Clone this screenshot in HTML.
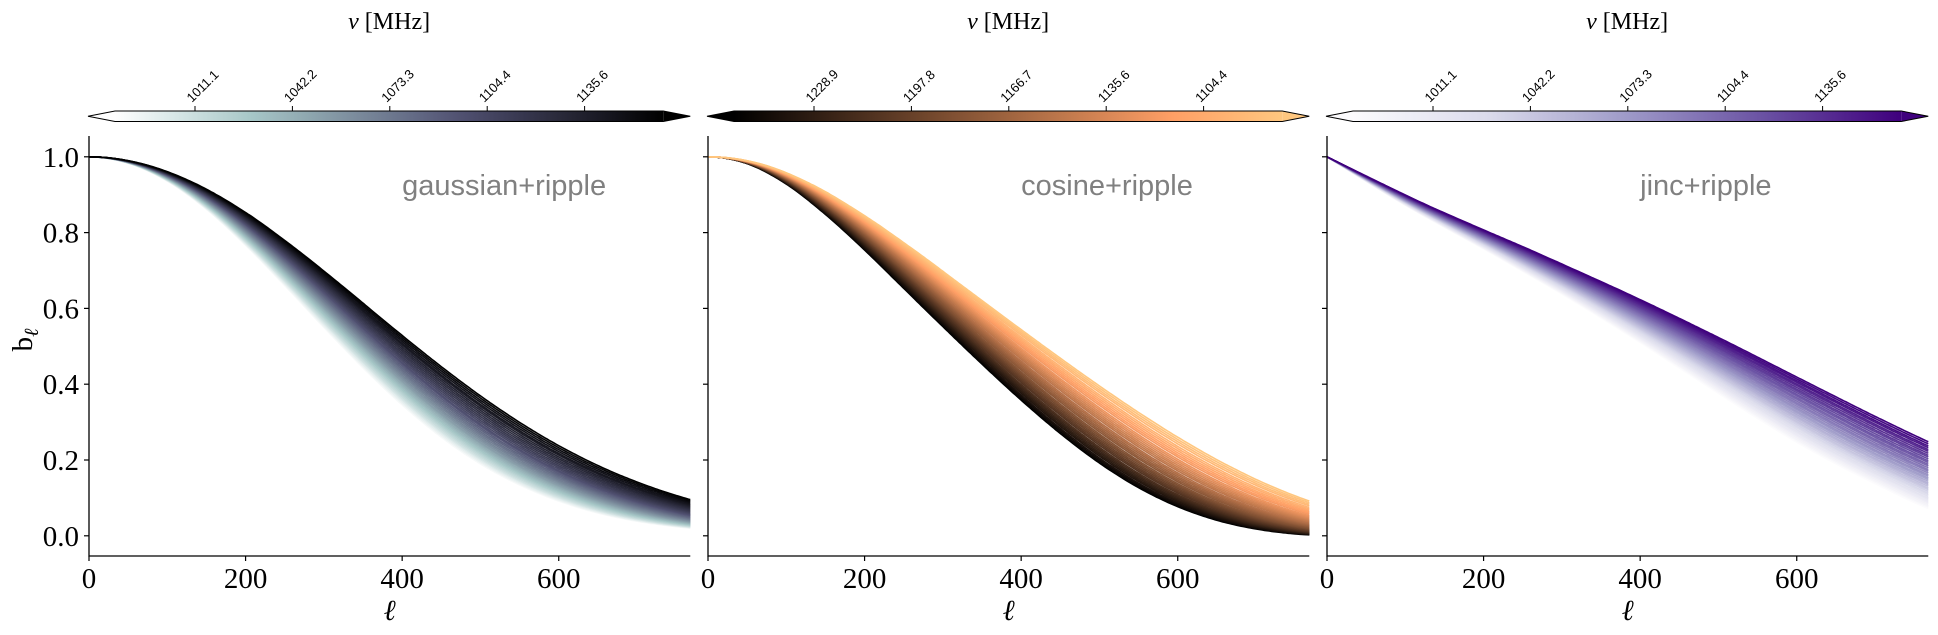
<!DOCTYPE html>
<html><head><meta charset="utf-8">
<style>
html,body{margin:0;padding:0;background:#fff;}
svg{display:block;}
.tk{font-family:"Liberation Serif",serif;font-size:29px;fill:#000;}
.cb{font-family:"Liberation Sans",sans-serif;font-size:13px;fill:#000;}
.ann{font-family:"Liberation Sans",sans-serif;font-size:29px;fill:#808080;}
</style></head>
<body>
<svg id="fig" width="1938" height="635" viewBox="0 0 1938 635" xmlns="http://www.w3.org/2000/svg"></svg>
<script>
// ---- data ----
const ellGrid = [0,50,100,150,200,250,300,350,400,450,500,550,600,650,700,750,800];
const gaussTemplate = [1.0,0.983,0.935,0.860,0.764,0.657,0.546,0.439,0.341,0.256,0.186,0.131,0.089,0.058,0.037,0.023,0.0135];
const cosineTemplate = [1.0,0.982,0.928,0.848,0.754,0.653,0.552,0.453,0.358,0.270,0.192,0.127,0.077,0.041,0.018,0.005,0.0];
const jincTemplate = [1.0,0.935,0.872,0.814,0.757,0.698,0.638,0.575,0.510,0.443,0.376,0.310,0.247,0.190,0.138,0.088,0.045];
const gaussScale = [1.000,0.994,0.988,0.982,0.976,0.971,0.965,0.959,0.953,0.947,0.941,0.935,0.929,0.923,0.917,0.912,0.906,0.900,0.894,0.888,0.882,0.876,0.870,0.864,0.858,0.853,0.847,0.841,0.835,0.829,0.823,0.817,0.811,0.805,0.799,0.794,0.788,0.782,0.776,0.770];
const cosineScale = [1.000,0.994,0.988,0.982,0.975,0.969,0.963,0.957,0.951,0.945,0.938,0.932,0.926,0.920,0.914,0.908,0.902,0.895,0.889,0.883,0.877,0.871,0.865,0.858,0.852,0.846,0.840,0.834,0.828,0.822,0.815,0.809,0.803,0.797,0.791,0.785,0.778,0.772,0.766,0.760];
const jincScale = [1.000,0.994,0.989,0.983,0.977,0.972,0.966,0.961,0.955,0.949,0.944,0.938,0.932,0.927,0.921,0.915,0.910,0.904,0.898,0.893,0.887,0.882,0.876,0.870,0.865,0.859,0.853,0.848,0.842,0.837,0.831,0.825,0.820,0.814,0.808,0.803,0.797,0.792,0.786,0.780];
const xTicks = [0,200,400,600];
const yTicks = [0.0,0.2,0.4,0.6,0.8,1.0];
const cbTicksA = ["1011.1","1042.2","1073.3","1104.4","1135.6"];
const cbTicksB = ["1228.9","1197.8","1166.7","1135.6","1104.4"];
const cbTicksC = ["1011.1","1042.2","1073.3","1104.4","1135.6"];
const panelLabels = ["gaussian+ripple","cosine+ripple","jinc+ripple"];

// ---- layout ----
const NS="http://www.w3.org/2000/svg";
const svg=document.getElementById('fig');
const panelX0=[89,708,1327];
const pxPerEll=0.7829, ellMax=768;
const yOf=v=>535.8-v*379;
const yTop=136, yBot=556;
function mk(tag,attrs,parent){const e=document.createElementNS(NS,tag);for(const k in attrs)e.setAttribute(k,attrs[k]);(parent||svg).appendChild(e);return e;}
function lerp(a,b,t){return a+(b-a)*t;}
function cmapStops(stops,t){for(let i=1;i<stops.length;i++){if(t<=stops[i][0]){const a=stops[i-1],b=stops[i];const u=(t-a[0])/(b[0]-a[0]);return [lerp(a[1],b[1],u),lerp(a[2],b[2],u),lerp(a[3],b[3],u)];}}const l=stops[stops.length-1];return [l[1],l[2],l[3]];}
const boneR=t=>cmapStops([[0,1,1,1],[0.25,0.65,0.78,0.78],[0.625,0.32,0.32,0.45],[1,0,0,0]],t);
const copper=t=>[Math.min(1,1.25*t),0.7812*t,0.4975*t];
const purples=t=>cmapStops([[0,0.988,0.984,0.992],[0.25,0.855,0.855,0.922],[0.5,0.62,0.604,0.784],[0.75,0.416,0.318,0.639],[1,0.247,0,0.49]],t);
const rgb=c=>`rgb(${Math.round(c[0]*255)},${Math.round(c[1]*255)},${Math.round(c[2]*255)})`;
function tmplAt(tmpl,ell,sym){
  const step=ellGrid[1]-ellGrid[0];let i=Math.floor(ell/step);if(i>=ellGrid.length-1)i=ellGrid.length-2;if(i<0)i=0;
  const u=(ell-ellGrid[i])/step;
  const p1=tmpl[i],p2=tmpl[i+1];
  const p0=i>0?tmpl[i-1]:(sym?p2:2*p1-p2);
  const p3=i+2<tmpl.length?tmpl[i+2]:2*p2-p1;
  return 0.5*((2*p1)+(-p0+p2)*u+(2*p0-5*p1+4*p2-p3)*u*u+(-p0+3*p1-3*p2+p3)*u*u*u);
}
const panels=[
 {tmpl:gaussTemplate,scale:gaussScale,cmap:boneR,ticks:cbTicksA,name:'gaussian',sym:true},
 {tmpl:cosineTemplate,scale:cosineScale,cmap:copper,ticks:cbTicksB,name:'cosine',sym:true},
 {tmpl:jincTemplate,scale:jincScale,cmap:purples,ticks:cbTicksC,name:'jinc',sym:false}];
const defs=mk('defs',{});
panels.forEach((p,pi)=>{
  const x0=panelX0[pi];const xOf=l=>x0+l*pxPerEll;const xEnd=xOf(ellMax);
  const g=mk('g',{});
  
  
  const N=p.scale.length;
  p.scale.forEach((s,i)=>{
    let d='';
    for(let l=0;l<=ellMax;l+=3){
      let v=tmplAt(p.tmpl,l*s,p.sym);
      if(!p.sym&&l*s<12){const w=l*s/12;v=Math.min(v,1-(1-tmplAt(p.tmpl,12,false))*w*w*0.5-(1-tmplAt(p.tmpl,12,false))*w*0.5);}
      d+=(l?'L':'M')+xOf(l).toFixed(1)+','+yOf(v).toFixed(1);}
    const c=p.cmap(i/(N-1));
    const path=mk('path',{d:d,fill:'none',stroke:rgb(c),'stroke-width':1.6},g);
    
    
  });
  const ax=mk('path',{d:`M${x0},${yTop}V${yBot}H${xEnd}`,fill:'none',stroke:'#000','stroke-width':1.3},g);
  
  
  xTicks.forEach(t=>{
    mk('line',{x1:xOf(t),x2:xOf(t),y1:yBot,y2:yBot+5,stroke:'#000','stroke-width':1.2},g);
    const tx=mk('text',{x:xOf(t),y:588,'text-anchor':'middle',class:'tk'},g);tx.textContent=t;
    
    
  });
  const xl=mk('text',{x:(x0+xEnd)/2,y:620,'text-anchor':'middle',class:'tk','font-style':'italic'},g);xl.textContent='ℓ';
  
  
  yTicks.forEach(t=>{
    mk('line',{x1:x0-5,x2:x0,y1:yOf(t),y2:yOf(t),stroke:'#000','stroke-width':1.2},g);
    if(pi===0){const ty=mk('text',{x:x0-10,y:yOf(t)+10,'text-anchor':'end',class:'tk'},g);ty.textContent=t.toFixed(1);
      
      }
  });
  const an=mk('text',{x:xOf(400),y:195,class:'ann'},g);an.textContent=panelLabels[pi];
  
  
  const cbL=x0-1,cbR=xEnd,tri=27,cy0=111,cy1=121.5,cym=(cy0+cy1)/2;
  const gid='grad'+pi;const lg=mk('linearGradient',{id:gid,x1:0,x2:1,y1:0,y2:0},defs);
  for(let k=0;k<=20;k++){mk('stop',{offset:k/20,'stop-color':rgb(p.cmap(k/20))},lg);}
  const cbg=mk('g',{},g);
  
  
  mk('rect',{x:cbL+tri,y:cy0,width:cbR-cbL-2*tri,height:cy1-cy0,fill:`url(#${gid})`},cbg);
  mk('path',{d:`M${cbL},${cym}L${cbL+tri},${cy0}V${cy1}Z`,fill:rgb(p.cmap(0))},cbg);
  mk('path',{d:`M${cbR},${cym}L${cbR-tri},${cy0}V${cy1}Z`,fill:rgb(p.cmap(1))},cbg);
  mk('path',{d:`M${cbL},${cym}L${cbL+tri},${cy0}H${cbR-tri}L${cbR},${cym}L${cbR-tri},${cy1}H${cbL+tri}Z`,fill:'none',stroke:'#000','stroke-width':1},cbg);
  p.ticks.forEach((lab,k)=>{
    const tx=x0+106+k*97.4;
    mk('line',{x1:tx,x2:tx,y1:cy0,y2:cy0-5,stroke:'#000','stroke-width':1},cbg);
    const t=mk('text',{x:0,y:0,class:'cb',transform:`translate(${tx-3},${cy0-8}) rotate(-45)`},cbg);t.textContent=lab;
    
    
  });
  const ct=mk('text',{x:(cbL+cbR)/2,y:29,'text-anchor':'middle',class:'tk',style:'font-size:24px'},cbg);
  ct.innerHTML='<tspan font-style="italic">ν</tspan> [MHz]';
  
  
});
const yl=mk('text',{x:0,y:0,class:'tk',transform:'translate(32,340) rotate(-90)','text-anchor':'middle'});
yl.innerHTML='b<tspan font-size="20" dy="6" font-style="italic">ℓ</tspan>';


</script>
</body></html>
